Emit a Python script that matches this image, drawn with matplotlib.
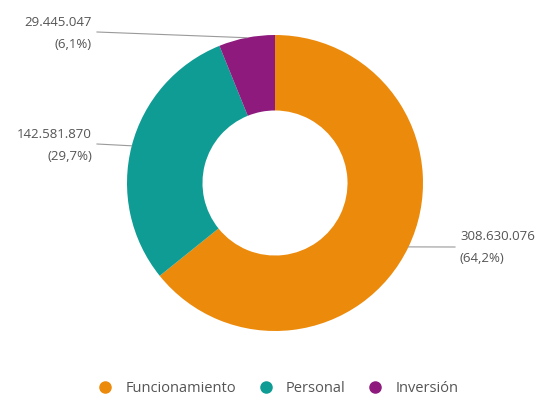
import matplotlib
matplotlib.use("Agg")
import matplotlib.pyplot as plt
import numpy as np

categories = ["Funcionamiento", "Personal", "Inversión"]
values = [308630076, 142581870, 29445047]
colors = ["#EC8A0C", "#0E9C94", "#8E1A7E"]

W, H = 549, 403
fig = plt.figure(figsize=(W / 100, H / 100), dpi=100)
ax = fig.add_axes([0, 0, 1, 1])

cx, cy, R = 275, H - 183, 148
wedges, _ = ax.pie(values, colors=colors, startangle=90, counterclock=False,
                   radius=R, center=(cx, cy), frame=True,
                   wedgeprops=dict(width=R * 0.51, edgecolor="none"))
ax.set_xlim(0, W)
ax.set_ylim(0, H)
ax.set_aspect("equal")
ax.axis("off")

total = sum(values)

def fmt(v):
    return f"{v:,}".replace(",", ".")

def pct(v):
    return f"({v / total * 100:.1f}%)".replace(".", ",")

# label anchor positions (line end x, line y, alignment) in pixel coordinates
label_pos = [(455, 247, "left"), (97, 144, "right"), (97, 32, "right")]
for w, v, (lx, ly, ha) in zip(wedges, values, label_pos):
    ang = np.deg2rad((w.theta1 + w.theta2) / 2)
    px = cx + R * np.cos(ang)
    py = cy + R * np.sin(ang)
    ly_d = H - ly
    ax.plot([px, lx], [py, ly_d], color="#9a9a9a", lw=0.8)
    tx = lx + 5 if ha == "left" else lx - 5
    ax.text(tx, ly_d + 10, fmt(v), ha=ha, va="center", fontsize=9.5,
            color="#555555", family="Open Sans")
    ax.text(tx, ly_d - 12, pct(v), ha=ha, va="center", fontsize=9.5,
            color="#555555", family="Open Sans")

handles = [plt.Line2D([], [], marker="o", ls="none", color=c, markersize=8)
           for c in colors]
fig.legend(handles, categories, loc="center", bbox_to_anchor=(0.5, 1 - 389 / H),
           ncol=3, frameon=False, handletextpad=0.4, columnspacing=1.0,
           prop=dict(family="Open Sans", size=10.5), labelcolor="#555555")

fig.savefig("out.png", dpi=100, facecolor="white")
